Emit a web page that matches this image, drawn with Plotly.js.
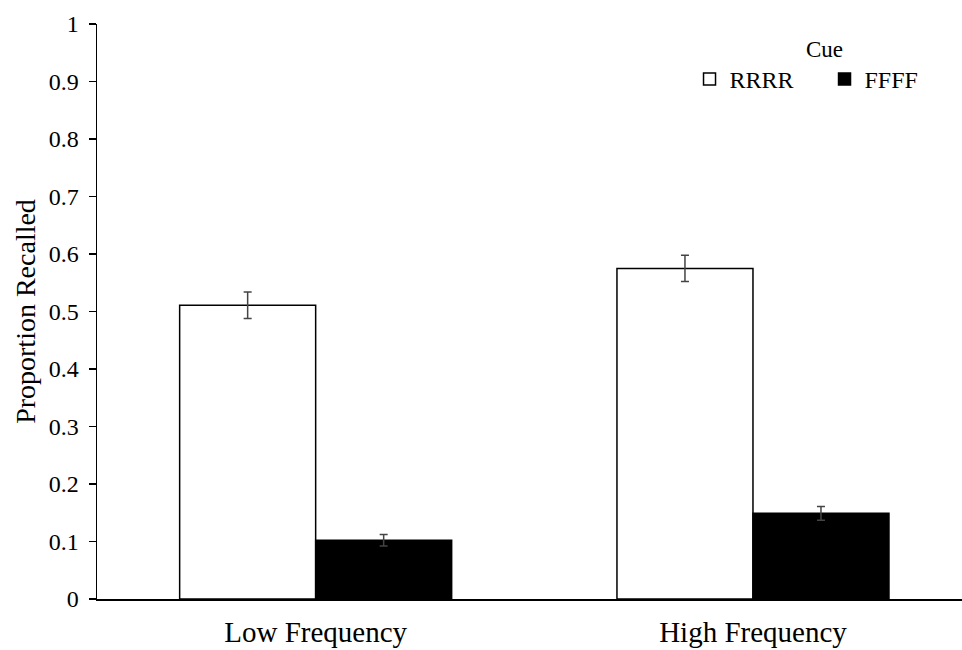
<!DOCTYPE html>
<html>
<head>
<meta charset="utf-8">
<script src="https://cdn.plot.ly/plotly-3.0.1.min.js"></script>
<style>html,body{margin:0;padding:0;background:#fff;}#chart{width:962px;height:650px;}</style>
</head>
<body>
<div id="chart"></div>
<script>
const categories = ["Low Frequency", "High Frequency"];
const rrrrValues = [0.511, 0.575];
const rrrrErrors = [0.023, 0.023];
const ffffValues = [0.102, 0.149];
const ffffErrors = [0.010, 0.012];
const yTickVals = [0, 0.1, 0.2, 0.3, 0.4, 0.5, 0.6, 0.7, 0.8, 0.9, 1];
const yTickText = ["0", "0.1", "0.2", "0.3", "0.4", "0.5", "0.6", "0.7", "0.8", "0.9", "1"];

const font = "Liberation Serif";

const traces = [
  {
    type: "bar", name: "RRRR", x: categories, y: rrrrValues,
    marker: {color: "#ffffff", line: {color: "#000000", width: 1.5}},
    error_y: {type: "data", array: rrrrErrors, visible: true, color: "#444444", thickness: 1.5, width: 4}
  },
  {
    type: "bar", name: "FFFF", x: categories, y: ffffValues,
    marker: {color: "#000000", line: {color: "#000000", width: 1.5}},
    error_y: {type: "data", array: ffffErrors, visible: true, color: "#444444", thickness: 1.5, width: 4}
  }
];

const layout = {
  width: 962, height: 650,
  margin: {l: 97, r: 0, t: 24, b: 51},
  paper_bgcolor: "#ffffff", plot_bgcolor: "#ffffff",
  barmode: "group", bargap: 0.378, bargroupgap: 0,
  font: {family: font, color: "#000000", size: 22},
  showlegend: true,
  legend: {
    orientation: "h", x: 0.685, y: 0.995, xanchor: "left", yanchor: "top",
    font: {family: font, size: 24, color: "#000"},
    title: {text: "Cue", side: "top center", font: {family: font, size: 23}},
    entrywidth: 90, entrywidthmode: "pixels",
    itemwidth: 30, tracegroupgap: 0, bgcolor: "rgba(0,0,0,0)"
  },
  xaxis: {
    type: "category", range: [-0.5, 1.478],
    showline: true, linecolor: "#000", linewidth: 1.5,
    ticks: "", showgrid: false, zeroline: false,
    ticklabelstandoff: 7,
    tickfont: {family: font, size: 29, color: "#000"}
  },
  yaxis: {
    range: [0, 1], tickvals: yTickVals, ticktext: yTickText,
    showline: true, linecolor: "#000", linewidth: 1.5,
    ticks: "outside", ticklen: 7, tickwidth: 1.5, tickcolor: "#000",
    showgrid: false, zeroline: false, ticklabelstandoff: 5,
    tickfont: {family: font, size: 24, color: "#000"},
    title: {text: "Proportion Recalled", font: {family: font, size: 28, color: "#000"}, standoff: 5}
  }
};

Plotly.newPlot("chart", traces, layout, {staticPlot: true, displayModeBar: false});
</script>
</body>
</html>
